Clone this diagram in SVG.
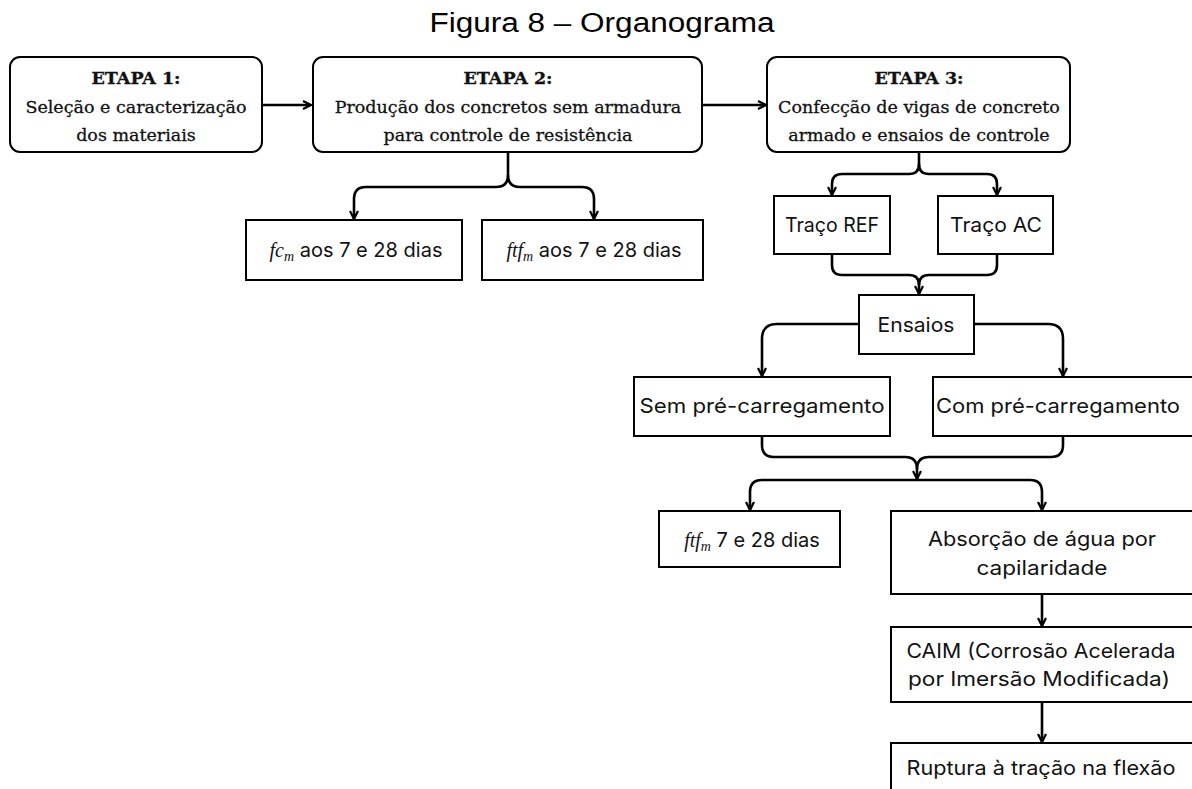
<svg xmlns="http://www.w3.org/2000/svg" width="1192" height="789" viewBox="0 0 1192 789">
<style>
.bg{fill:#fff}
.rb{fill:#fff;stroke:#000;stroke-width:2}
.sb{fill:#fff;stroke:#000;stroke-width:2}
.c{fill:none;stroke:#000;stroke-width:2.6;stroke-linejoin:round}
.slab{font-family:"DejaVu Serif","Liberation Serif",serif;font-size:17.5px;fill:#111;stroke:#111;stroke-width:0.3;text-anchor:middle}
.slab .h{font-weight:bold}
.s{font-family:Inter,"Noto Sans","Liberation Sans",sans-serif;font-size:20px;fill:#111;text-anchor:middle}
.m{font-family:"Liberation Serif","DejaVu Serif",serif;font-style:italic;font-size:20px}
.sub{font-size:14px}
.title{font-family:"Liberation Sans",Arial,sans-serif;font-size:27px;fill:#000;text-anchor:middle}
</style>
<defs>
<marker id="ah" viewBox="0 0 10 10" refX="9" refY="5" markerWidth="10" markerHeight="10" markerUnits="userSpaceOnUse" orient="auto">
<path d="M1,1 L9,5 L1,9" fill="none" stroke="#000" stroke-width="2.2" stroke-linejoin="miter"/>
</marker>
</defs>
<rect class="bg" x="0" y="0" width="1192" height="789"/>
<text class="title" x="602" y="32" textLength="345" lengthAdjust="spacingAndGlyphs">Figura 8 – Organograma</text>

<g id="connectors">
<path class="c" d="M262,105 H311" marker-end="url(#ah)"/>
<path class="c" d="M702,105 H766" marker-end="url(#ah)"/>
<path class="c" d="M508,152 V175 Q508,187 496,187 H366 Q354,187 354,199 V219" marker-end="url(#ah)"/>
<path class="c" d="M508,175 Q508,187 520,187 H582 Q594,187 594,199 V219" marker-end="url(#ah)"/>
<path class="c" d="M919,152 V164 Q919,174 909,174 H842 Q832,174 832,184 V195" marker-end="url(#ah)"/>
<path class="c" d="M919,164 Q919,174 929,174 H987 Q997,174 997,184 V195" marker-end="url(#ah)"/>
<path class="c" d="M832,254 V265 Q832,275 842,275 H909 Q919,275 919,285 V294" marker-end="url(#ah)"/>
<path class="c" d="M997,254 V265 Q997,275 987,275 H929 Q919,275 919,285"/>
<path class="c" d="M859,324 H777 Q762,324 762,339 V376" marker-end="url(#ah)"/>
<path class="c" d="M974,324 H1048 Q1063,324 1063,339 V376" marker-end="url(#ah)"/>
<path class="c" d="M762,436 V445 Q762,457 774,457 H905 Q917,457 917,469 V479" marker-end="url(#ah)"/>
<path class="c" d="M1063,436 V445 Q1063,457 1051,457 H929 Q917,457 917,469"/>
<path class="c" d="M917,480 H762 Q750,480 750,492 V510" marker-end="url(#ah)"/>
<path class="c" d="M917,480 H1030 Q1042,480 1042,492 V510" marker-end="url(#ah)"/>
<path class="c" d="M1042,594 V626" marker-end="url(#ah)"/>
<path class="c" d="M1042,702 V742" marker-end="url(#ah)"/>
</g>

<g id="etapa1">
<rect class="rb" x="10" y="57" width="252" height="95" rx="10"/>
<text class="slab"><tspan class="h" x="136" y="84">ETAPA 1:</tspan><tspan x="136" y="113">Seleção e caracterização</tspan><tspan x="136" y="141">dos materiais</tspan></text>
</g>
<g id="etapa2">
<rect class="rb" x="313" y="57" width="389" height="95" rx="10"/>
<text class="slab"><tspan class="h" x="508" y="84">ETAPA 2:</tspan><tspan x="508" y="113">Produção dos concretos sem armadura</tspan><tspan x="508" y="141">para controle de resistência</tspan></text>
</g>
<g id="etapa3">
<rect class="rb" x="767" y="57" width="303" height="95" rx="10"/>
<text class="slab"><tspan class="h" x="919" y="84">ETAPA 3:</tspan><tspan x="919" y="113">Confecção de vigas de concreto</tspan><tspan x="919" y="141">armado e ensaios de controle</tspan></text>
</g>

<g id="fcm">
<rect class="sb" x="246" y="220" width="216" height="60"/>
<text class="s" x="356" y="257"><tspan class="m">fc<tspan class="sub" dy="4">m</tspan></tspan><tspan dy="-4"> aos 7 e 28 dias</tspan></text>
</g>
<g id="ftfm">
<rect class="sb" x="482" y="220" width="221" height="60"/>
<text class="s" x="594" y="257"><tspan class="m">ftf<tspan class="sub" dy="4">m</tspan></tspan><tspan dy="-4"> aos 7 e 28 dias</tspan></text>
</g>
<g id="tracoref">
<rect class="sb" x="774" y="196" width="116" height="58"/>
<text class="s" x="832" y="232" textLength="94" lengthAdjust="spacingAndGlyphs">Traço REF</text>
</g>
<g id="tracoac">
<rect class="sb" x="938" y="196" width="115" height="58"/>
<text class="s" x="996" y="232" textLength="92" lengthAdjust="spacingAndGlyphs">Traço AC</text>
</g>
<g id="ensaios">
<rect class="sb" x="859" y="295" width="115" height="59"/>
<text class="s" x="916" y="332" textLength="77" lengthAdjust="spacingAndGlyphs">Ensaios</text>
</g>
<g id="sem">
<rect class="sb" x="634" y="377" width="256" height="59"/>
<text class="s" x="762" y="413" textLength="245" lengthAdjust="spacingAndGlyphs">Sem pré-carregamento</text>
</g>
<g id="com">
<rect class="sb" x="933" y="377" width="262" height="59"/>
<text class="s" x="1058" y="413" textLength="244" lengthAdjust="spacingAndGlyphs">Com pré-carregamento</text>
</g>
<g id="ftfm2">
<rect class="sb" x="659" y="511" width="181" height="56"/>
<text class="s" x="752" y="547"><tspan class="m">ftf<tspan class="sub" dy="4">m</tspan></tspan><tspan dy="-4">  7 e 28 dias</tspan></text>
</g>
<g id="absorcao">
<rect class="sb" x="891" y="511" width="304" height="83"/>
<text class="s"><tspan x="1042" y="546" textLength="228" lengthAdjust="spacingAndGlyphs">Absorção de água por</tspan><tspan x="1042" y="575" textLength="131" lengthAdjust="spacingAndGlyphs">capilaridade</tspan></text>
</g>
<g id="caim">
<rect class="sb" x="891" y="627" width="304" height="75"/>
<text class="s"><tspan x="1041" y="658" textLength="269" lengthAdjust="spacingAndGlyphs">CAIM (Corrosão Acelerada</tspan><tspan x="1039" y="686" textLength="262" lengthAdjust="spacingAndGlyphs">por Imersão Modificada)</tspan></text>
</g>
<g id="ruptura">
<rect class="sb" x="891" y="743" width="304" height="60"/>
<text class="s" x="1041" y="775" textLength="269" lengthAdjust="spacingAndGlyphs">Ruptura à tração na flexão</text>
</g>
</svg>
